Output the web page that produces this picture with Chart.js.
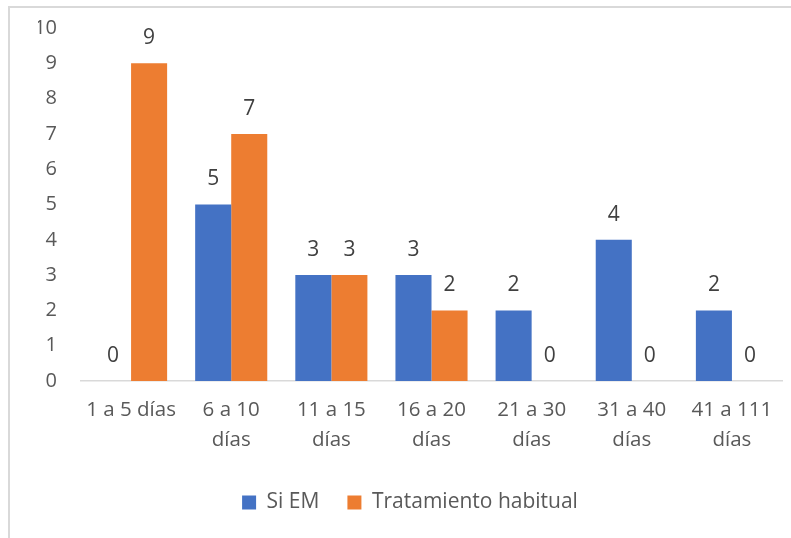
<!DOCTYPE html>
<html>
<head>
<meta charset="utf-8">
<script src="https://cdn.jsdelivr.net/npm/chart.js@4"></script>
<style>
  html, body { margin: 0; padding: 0; background: #ffffff; }
  #wrap { width: 791px; height: 538px; }
</style>
</head>
<body>
<div id="wrap"><canvas id="chart" width="791" height="538"></canvas></div>
<script>
// Duración en rangos de días
const categories = [
  "1 a 5 días",
  ["6 a 10", "días"],
  ["11 a 15", "días"],
  ["16 a 20", "días"],
  ["21 a 30", "días"],
  ["31 a 40", "días"],
  ["41 a 111", "días"]
];
const seriesNames = ["Si EM", "Tratamiento habitual"];
const siEM = [0, 5, 3, 3, 2, 4, 2];
const tratamientoHabitual = [9, 7, 3, 2, 0, 0, 0];
const yTicks = [0, 1, 2, 3, 4, 5, 6, 7, 8, 9, 10];

const FONT = "'Open Sans', 'Noto Sans', sans-serif";
const AXIS_COLOR = "#595959";
const LABEL_COLOR = "#404040";

// Outer frame of the chart area
const framePlugin = {
  id: "frame",
  beforeDraw(chart) {
    const ctx = chart.ctx;
    ctx.save();
    ctx.fillStyle = "#ffffff";
    ctx.fillRect(0, 0, chart.width, chart.height);
    ctx.strokeStyle = "#d9d9d9";
    ctx.lineWidth = 2;
    ctx.strokeRect(9, 7, chart.width + 40, chart.height + 40);
    ctx.restore();
  }
};

// Value labels above each bar
const valueLabels = {
  id: "valueLabels",
  afterDatasetsDraw(chart) {
    const ctx = chart.ctx;
    ctx.save();
    ctx.font = "21px " + FONT;
    ctx.fillStyle = LABEL_COLOR;
    ctx.textAlign = "center";
    ctx.textBaseline = "middle";
    chart.data.datasets.forEach((ds, i) => {
      chart.getDatasetMeta(i).data.forEach((bar, j) => {
        ctx.fillText(String(ds.data[j]), bar.x, bar.y - 25);
      });
    });
    ctx.restore();
  }
};

new Chart(document.getElementById("chart"), {
  type: "bar",
  data: {
    labels: categories,
    datasets: [
      { label: seriesNames[0], data: siEM, backgroundColor: "#4472C4" },
      { label: seriesNames[1], data: tratamientoHabitual, backgroundColor: "#ED7D31" }
    ]
  },
  options: {
    responsive: false,
    animation: false,
    events: [],
    layout: { padding: { top: 28, left: 38, right: 9, bottom: 15 } },
    datasets: {
      bar: { categoryPercentage: 0.72, barPercentage: 1.0 }
    },
    scales: {
      x: {
        grid: { display: false, drawTicks: false },
        border: { display: true, color: "#d9d9d9", width: 1.5 },
        ticks: {
          color: AXIS_COLOR,
          font: { family: FONT, size: 20.5, lineHeight: 1.42 },
          padding: 15,
          maxRotation: 0,
          autoSkip: false
        },
        afterFit(scale) {
          scale.height = 83;
          scale.paddingLeft = 0;
          scale.paddingRight = 0;
        }
      },
      y: {
        min: 0,
        max: 10,
        afterBuildTicks(scale) { scale.ticks = yTicks.map(v => ({ value: v })); },
        grid: { display: false, drawTicks: false },
        border: { display: false },
        ticks: {
          color: AXIS_COLOR,
          font: { family: FONT, size: 20 },
          padding: 24
        },
        afterFit(scale) {
          scale.width = 43;
          scale.paddingTop = 0;
          scale.paddingBottom = 0;
        }
      }
    },
    plugins: {
      legend: {
        position: "bottom",
        labels: {
          color: AXIS_COLOR,
          font: { family: FONT, size: 21 },
          boxWidth: 14,
          boxHeight: 14,
          padding: 28
        }
      },
      tooltip: { enabled: false }
    }
  },
  plugins: [framePlugin, valueLabels]
});
</script>
</body>
</html>
